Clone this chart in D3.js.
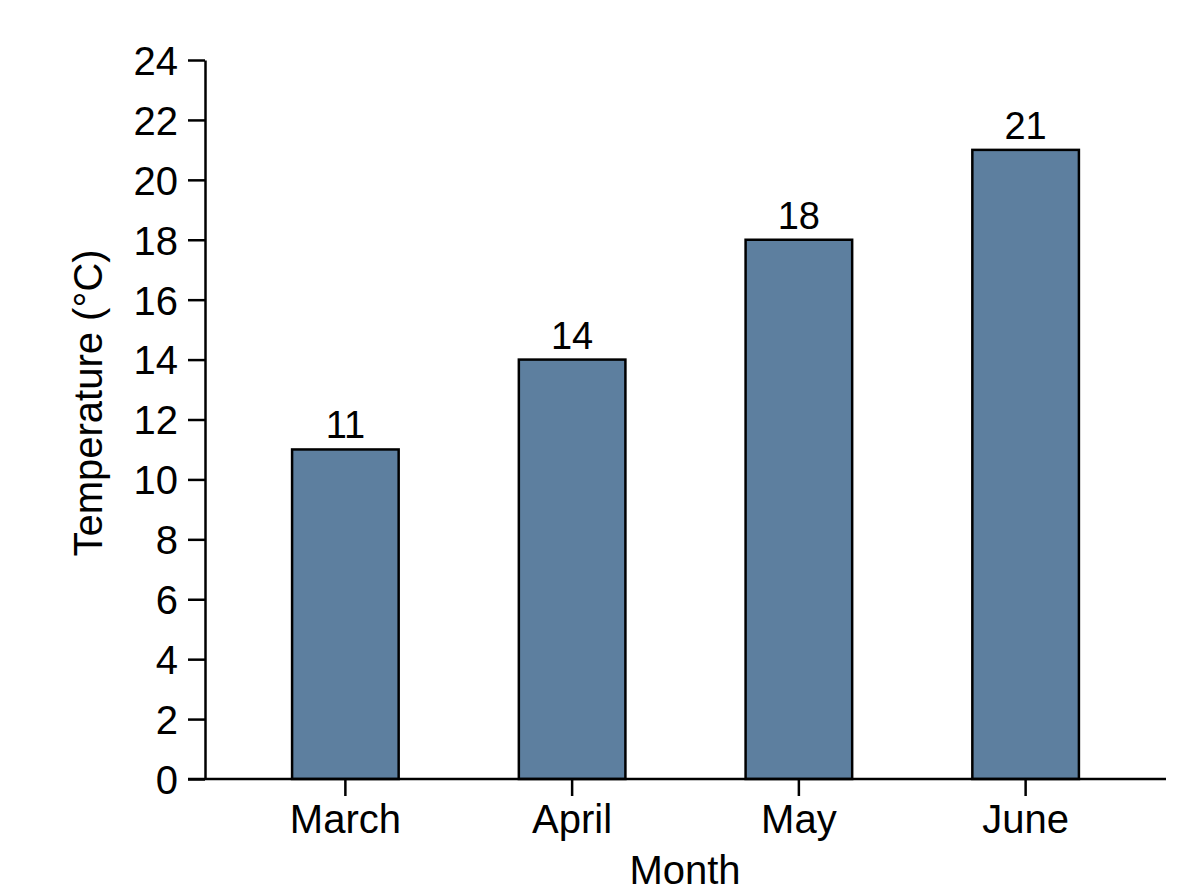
<!DOCTYPE html>
<html>
<head>
<meta charset="utf-8">
<script src="https://cdn.jsdelivr.net/npm/d3@7"></script>
<style>
  body { margin: 0; background: #fff; }
  text { font-family: "Liberation Sans", Arial, sans-serif; fill: #000; }
</style>
</head>
<body>
<svg id="chart" width="1200" height="896"></svg>
<script>
// data
const months = ["March", "April", "May", "June"]
const temps = [11, 14, 18, 21]
const yTicks = [0, 2, 4, 6, 8, 10, 12, 14, 16, 18, 20, 22, 24]

const svg = d3.select("#chart")

const x = d3.scaleBand()
    .domain(months)
    .range([232, 1139])
    .paddingInner(0.53)
    .paddingOuter(0.265)

const y = d3.scaleLinear()
    .domain([0, 24])
    .range([779, 60])

// bars
svg.selectAll("rect.bar")
    .data(months)
    .enter()
    .append("rect")
    .attr("class", "bar")
    .attr("x", d => x(d))
    .attr("width", x.bandwidth())
    .attr("y", (d, i) => y(temps[i]))
    .attr("height", (d, i) => y(0) - y(temps[i]))
    .attr("fill", "#5d7f9f")
    .attr("stroke", "#000")
    .attr("stroke-width", 2.5)

// value labels
svg.selectAll("text.val")
    .data(months)
    .enter()
    .append("text")
    .attr("class", "val")
    .attr("x", d => x(d) + x.bandwidth() / 2)
    .attr("y", (d, i) => y(temps[i]) - 11)
    .attr("text-anchor", "middle")
    .style("font-size", "38px")
    .text((d, i) => temps[i])

// y axis
const yAxis = svg.append("g")
    .attr("transform", "translate(205,0)")
    .call(d3.axisLeft(y).tickValues(yTicks).tickSize(17).tickPadding(10).tickSizeOuter(0))
yAxis.select(".domain").attr("stroke", "#000").attr("stroke-width", 2.5)
yAxis.selectAll(".tick line").attr("stroke", "#000").attr("stroke-width", 2.5)
yAxis.selectAll(".tick text")
    .attr("fill", "#000")
    .attr("dy", "0.36em")
    .style("font-size", "40px")
    .style("font-family", "'Liberation Sans', Arial, sans-serif")

// x axis
const xAxis = svg.append("g")
    .attr("transform", "translate(0,779)")
    .call(d3.axisBottom(x).tickSize(17).tickPadding(9).tickSizeOuter(0))
xAxis.select(".domain").remove()
xAxis.append("line")
    .attr("x1", 188).attr("x2", 1166)
    .attr("stroke", "#000").attr("stroke-width", 2.5)
xAxis.selectAll(".tick line").attr("stroke", "#000").attr("stroke-width", 2.5)
xAxis.selectAll(".tick text")
    .attr("fill", "#000")
    .style("font-size", "40px")
    .style("font-family", "'Liberation Sans', Arial, sans-serif")

// axis titles
svg.append("text")
    .attr("x", 685)
    .attr("y", 884)
    .attr("text-anchor", "middle")
    .style("font-size", "40px")
    .text("Month")

svg.append("text")
    .attr("transform", "translate(102,403) rotate(-90)")
    .attr("text-anchor", "middle")
    .style("font-size", "40px")
    .text("Temperature (°C)")
</script>
</body>
</html>
